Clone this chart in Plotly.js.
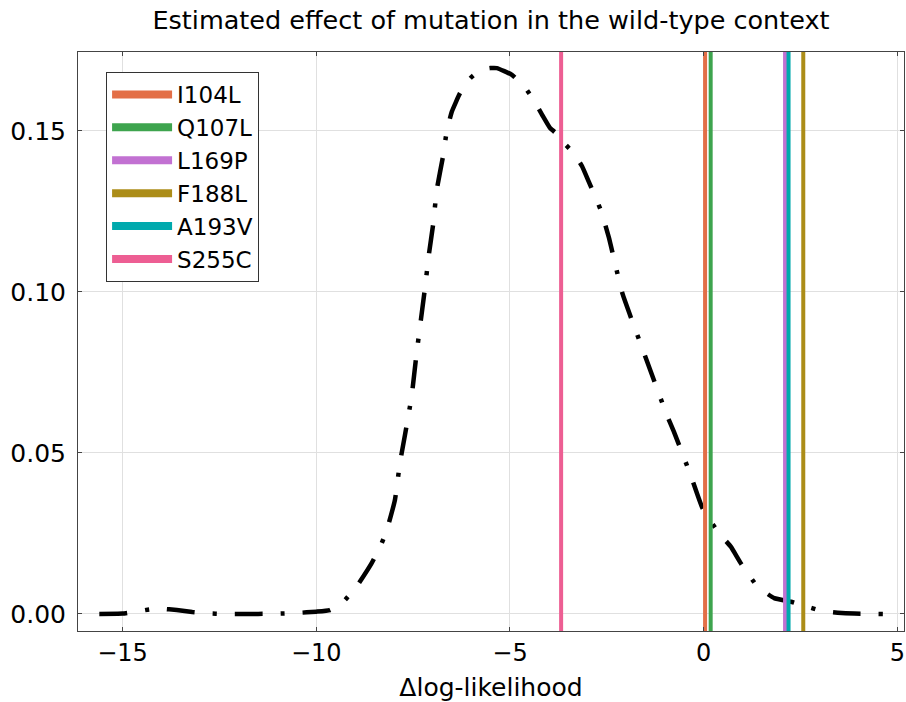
<!DOCTYPE html>
<html>
<head>
<meta charset="utf-8">
<script src="https://cdn.plot.ly/plotly-3.0.1.min.js"></script>
<style>html,body{margin:0;padding:0;background:#fff;} #chart{width:906px;height:702px;}</style>
</head>
<body>
<div id="chart"></div>
<script>
// Density curve (Δlog-likelihood vs density)
const densX = [-15.6, -15.0, -14.6, -14.3, -14.0, -13.6, -13.2, -12.8, -12.4, -12.0, -11.5, -11.0, -10.5, -10.0, -9.65, -9.3, -8.96, -8.57, -8.35, -8.18, -7.97, -7.84, -7.71, -7.54, -7.41, -7.19, -7.10, -6.98, -6.89, -6.73, -6.63, -6.50, -6.29, -6.03, -5.77, -5.51, -5.34, -4.95, -4.60, -4.39, -4.17, -3.96, -3.78, -3.61, -3.35, -3.14, -2.97, -2.66, -2.45, -2.10, -1.54, -0.96, -0.77, -0.34, -0.03, 0.40, 0.70, 0.96, 1.39, 1.82, 2.25, 2.60, 3.03, 3.46, 3.89, 4.63];
const densY = [0.0000, 0.0001, 0.0008, 0.0014, 0.0016, 0.0012, 0.0006, 0.0002, 0.0000, 0.0000, 0.0000, 0.0001, 0.0003, 0.0007, 0.0012, 0.0038, 0.0085, 0.0158, 0.0209, 0.0260, 0.0354, 0.0469, 0.0556, 0.0675, 0.0810, 0.1016, 0.1110, 0.1213, 0.1317, 0.1420, 0.1500, 0.1560, 0.1617, 0.1663, 0.1689, 0.1695, 0.1695, 0.1674, 0.1633, 0.1596, 0.1550, 0.1508, 0.1490, 0.1463, 0.1430, 0.1390, 0.1343, 0.1255, 0.1170, 0.0996, 0.0810, 0.0620, 0.0566, 0.0432, 0.0328, 0.0250, 0.0209, 0.0157, 0.0085, 0.0049, 0.0038, 0.0025, 0.0010, 0.0004, 0.0001, 0.0000];

// Mutations marked with vertical lines
const mutNames = ["I104L", "Q107L", "L169P", "F188L", "A193V", "S255C"];
const mutValues = [0.036, 0.18, 2.10, 2.57, 2.19, -3.68];
const mutColors = ["#E36F47", "#3EA44E", "#C271D2", "#AC8D18", "#00A9AD", "#ED5E93"];

// Axis settings
const xRange = [-16.15, 5.17];
const yRange = [-0.0053, 0.1745];
const xTicks = [-15, -10, -5, 0, 5];
const xTickText = ["\u221215", "\u221210", "\u22125", "0", "5"];
const yTicks = [0.00, 0.05, 0.10, 0.15];
const yTickText = ["0.00", "0.05", "0.10", "0.15"];

const traces = [];
traces.push({
  x: densX, y: densY, type: "scatter", mode: "lines",
  line: {color: "#000000", width: 4.5, dash: "28px,18px,4px,18px", shape: "spline", smoothing: 0.4},
  showlegend: false, hoverinfo: "skip"
});
// vertical lines (spanning the axis range)
mutNames.forEach((n, i) => {
  traces.push({
    x: [mutValues[i], mutValues[i]], y: [yRange[0], yRange[1]],
    type: "scatter", mode: "lines", name: n, legendgroup: n,
    line: {color: mutColors[i], width: 4}, showlegend: false
  });
});
// legend entries (thicker sample lines)
mutNames.forEach((n, i) => {
  traces.push({
    x: [null], y: [null], type: "scatter", mode: "lines", name: n, legendgroup: n,
    line: {color: mutColors[i], width: 8}, showlegend: true
  });
});

const layout = {
  width: 906, height: 702,
  margin: {l: 78, r: 2, t: 52, b: 71},
  paper_bgcolor: "#fff", plot_bgcolor: "#fff",
  font: {family: "DejaVu Sans", size: 24, color: "#000"},
  title: {text: "Estimated effect of mutation in the wild-type context", font: {family: "DejaVu Sans", size: 25.5, color: "#000"}, xref: "paper", x: 0.5, xanchor: "center", y: 0.972, yanchor: "middle"},
  xaxis: {
    range: xRange, tickvals: xTicks, ticktext: xTickText,
    showgrid: true, gridcolor: "#e0e0e0", gridwidth: 1, zeroline: false,
    showline: true, linecolor: "#444", linewidth: 1, mirror: "ticks",
    ticks: "inside", ticklen: 4, tickcolor: "#444",
    tickfont: {family: "DejaVu Sans", size: 24, color: "#000"},
    title: {text: "\u0394log-likelihood", font: {family: "DejaVu Sans", size: 25, color: "#000"}, standoff: 13}
  },
  yaxis: {
    range: yRange, tickvals: yTicks, ticktext: yTickText,
    showgrid: true, gridcolor: "#e0e0e0", gridwidth: 1, zeroline: false,
    showline: true, linecolor: "#444", linewidth: 1, mirror: "ticks",
    ticks: "inside", ticklen: 4, tickcolor: "#444", ticklabelstandoff: 6,
    tickfont: {family: "DejaVu Sans", size: 25, color: "#000"}
  },
  legend: {
    x: 0.034, y: 0.9655, xanchor: "left", yanchor: "top",
    bgcolor: "#fff", bordercolor: "#333", borderwidth: 1,
    font: {family: "DejaVu Sans", size: 23, color: "#000"},
    itemwidth: 60, tracegroupgap: 0
  },
  showlegend: true
};

Plotly.newPlot("chart", traces, layout, {displayModeBar: false, staticPlot: true});
</script>
</body>
</html>
